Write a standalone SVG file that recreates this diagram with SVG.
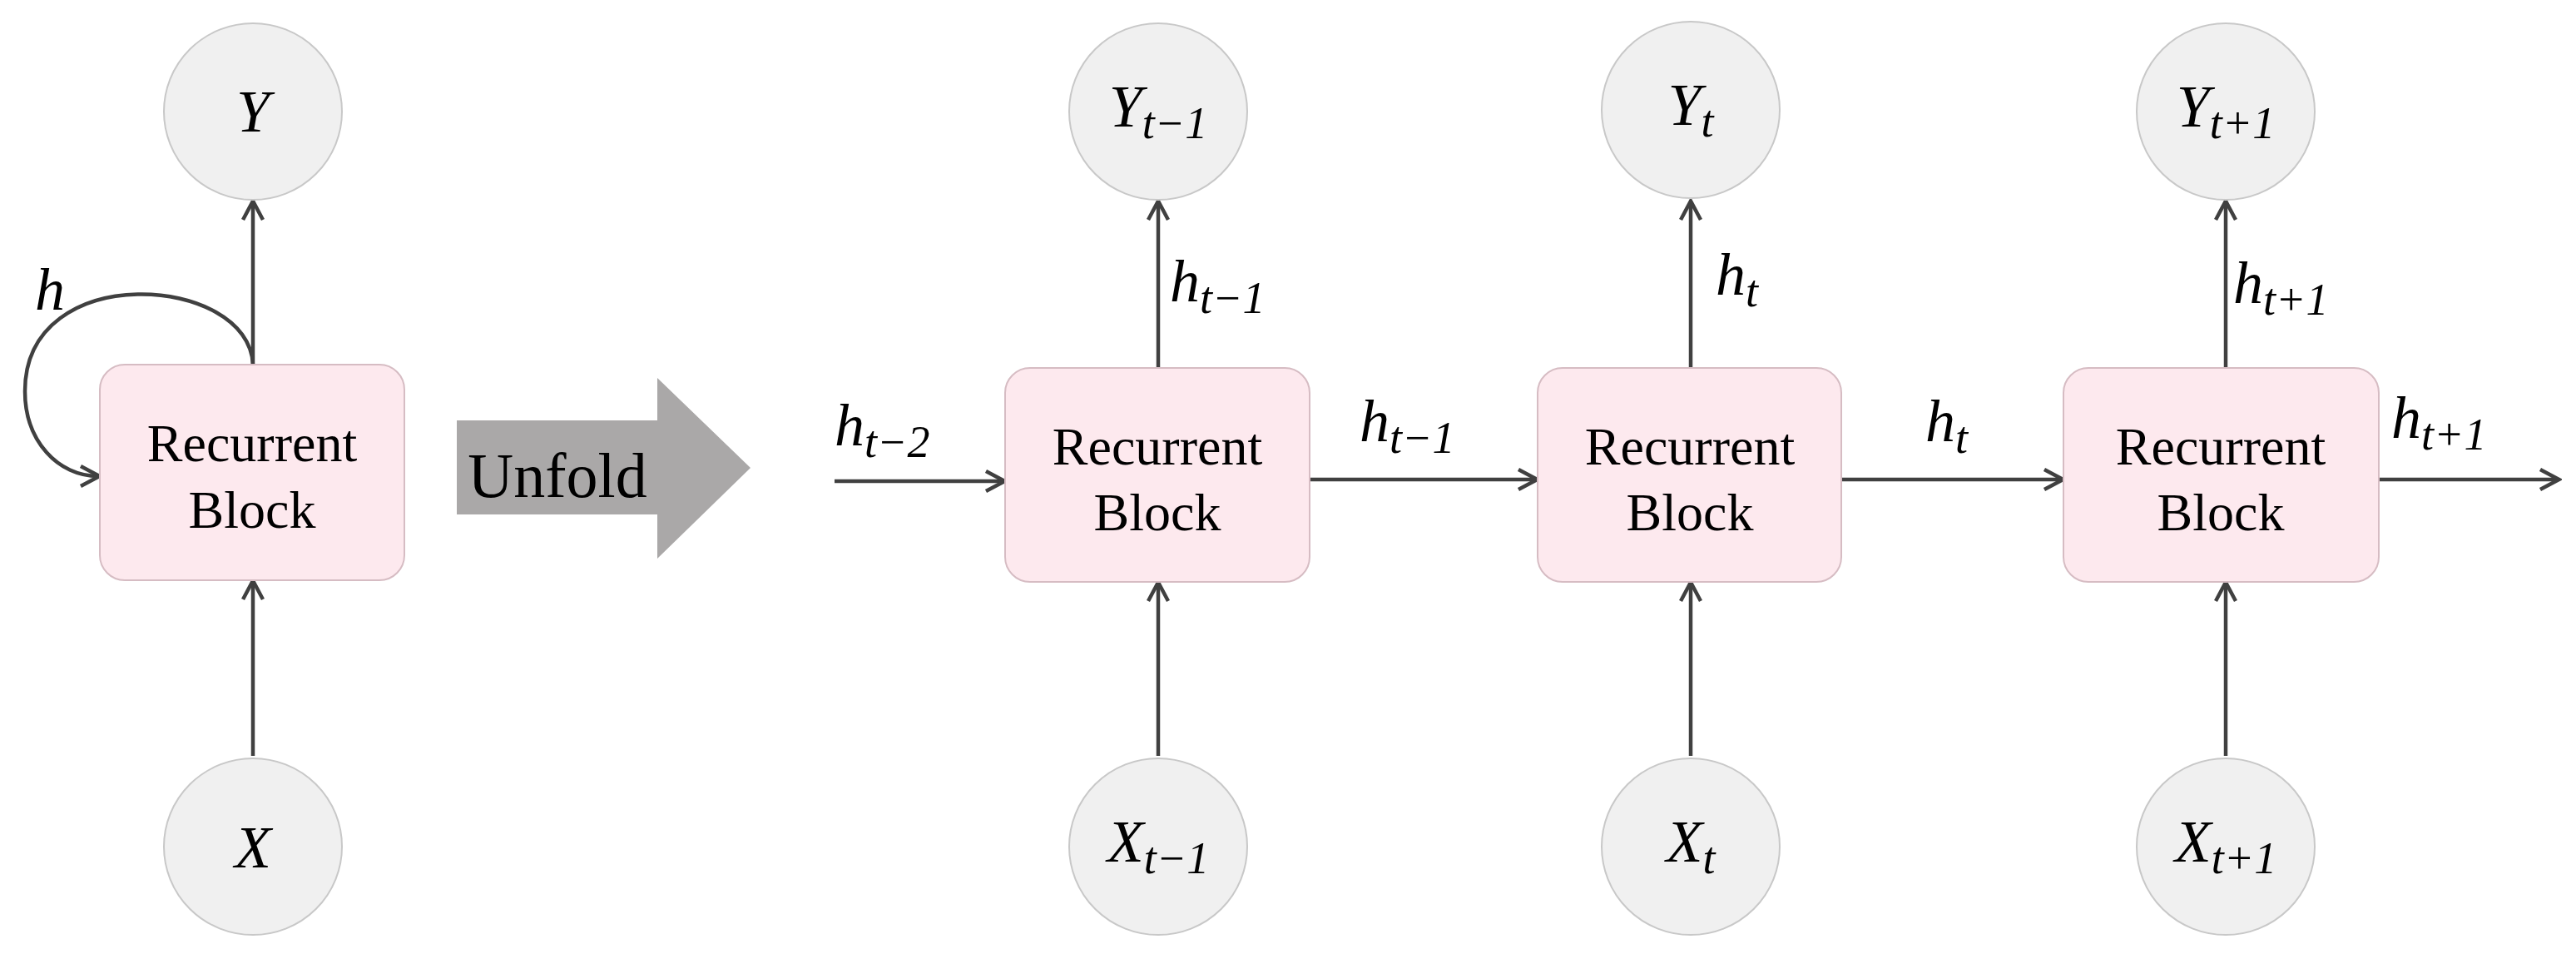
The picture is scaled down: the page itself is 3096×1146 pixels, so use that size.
<svg xmlns="http://www.w3.org/2000/svg" width="3096" height="1146" viewBox="0 0 3096 1146">
<defs>
<marker id="ah" viewBox="0 0 20 20" refX="17" refY="10" markerWidth="30" markerHeight="30" markerUnits="userSpaceOnUse" orient="auto"><path d="M3,2 L18,10 L3,18" fill="none" stroke="#404040" stroke-width="3"/></marker>
<style>
.blk{fill:#fde9ee;stroke:#d6bcc3;stroke-width:2}
.cir{fill:#f0f0f0;stroke:#c8c8c8;stroke-width:2}
.ln{fill:none;stroke:#404040;stroke-width:4.5;marker-end:url(#ah)}
.bt{font-family:'Liberation Serif','Times New Roman',Times,serif;font-size:64px;text-anchor:middle;fill:#000}
.m{font-family:'Liberation Serif','DejaVu Serif',serif;font-style:italic;font-size:72px;fill:#000}
.s{font-size:54px;font-style:italic}
</style>
</defs>
<g id="connectors">
<line class="ln" x1="304" y1="438" x2="304" y2="243"/>
<line class="ln" x1="304" y1="908" x2="304" y2="699"/>
<path class="ln" d="M304,438 C300,330 30,310 30,470 C30,530 70,572 118,572"/>
<line class="ln" x1="1392" y1="442" x2="1392" y2="243"/>
<line class="ln" x1="1392" y1="908" x2="1392" y2="701"/>
<line class="ln" x1="2032" y1="442" x2="2032" y2="243"/>
<line class="ln" x1="2032" y1="908" x2="2032" y2="701"/>
<line class="ln" x1="2675" y1="442" x2="2675" y2="243"/>
<line class="ln" x1="2675" y1="908" x2="2675" y2="701"/>
<line class="ln" x1="1003" y1="578" x2="1206" y2="578"/>
<line class="ln" x1="1574" y1="576" x2="1846" y2="576"/>
<line class="ln" x1="2213" y1="576" x2="2478" y2="576"/>
<line class="ln" x1="2859" y1="576" x2="3074" y2="576"/>
</g>
<g id="loop-label"><text class="m" x="42" y="372">h</text></g>
<g id="unfold">
<polygon points="549,505 790,505 790,454 902,562 790,671 790,618 549,618" fill="#aaa8a8"/>
<text class="bt" x="670" y="597" style="font-size:76px">Unfold</text>
</g>
<g id="Y"><ellipse class="cir" cx="304" cy="134" rx="107" ry="106"/><text class="m" x="304" y="158" text-anchor="middle">Y</text></g>
<g id="X"><ellipse class="cir" cx="304" cy="1017" rx="107" ry="106"/><text class="m" x="304" y="1042" text-anchor="middle">X</text></g>
<g id="block0"><rect class="blk" x="120" y="438" width="366" height="259" rx="30"/><text class="bt" x="303" y="554">Recurrent</text><text class="bt" x="303" y="634">Block</text></g>
<g id="block1"><rect class="blk" x="1208" y="442" width="366" height="257" rx="30"/><text class="bt" x="1391" y="558">Recurrent</text><text class="bt" x="1391" y="637">Block</text></g>
<g id="block2"><rect class="blk" x="1848" y="442" width="365" height="257" rx="30"/><text class="bt" x="2031" y="558">Recurrent</text><text class="bt" x="2031" y="637">Block</text></g>
<g id="block3"><rect class="blk" x="2480" y="442" width="379" height="257" rx="30"/><text class="bt" x="2669" y="558">Recurrent</text><text class="bt" x="2669" y="637">Block</text></g>
<g id="Y1"><ellipse class="cir" cx="1392" cy="134" rx="107" ry="106"/><text class="m" x="1392" y="152" text-anchor="middle">Y<tspan class="s" dy="14">t−1</tspan></text></g>
<g id="Y2"><ellipse class="cir" cx="2032" cy="132" rx="107" ry="106"/><text class="m" x="2032" y="150" text-anchor="middle">Y<tspan class="s" dy="14">t</tspan></text></g>
<g id="Y3"><ellipse class="cir" cx="2675" cy="134" rx="107" ry="106"/><text class="m" x="2675" y="152" text-anchor="middle">Y<tspan class="s" dy="14">t+1</tspan></text></g>
<g id="X1"><ellipse class="cir" cx="1392" cy="1017" rx="107" ry="106"/><text class="m" x="1392" y="1035" text-anchor="middle">X<tspan class="s" dy="14">t−1</tspan></text></g>
<g id="X2"><ellipse class="cir" cx="2032" cy="1017" rx="107" ry="106"/><text class="m" x="2032" y="1035" text-anchor="middle">X<tspan class="s" dy="14">t</tspan></text></g>
<g id="X3"><ellipse class="cir" cx="2675" cy="1017" rx="107" ry="106"/><text class="m" x="2675" y="1035" text-anchor="middle">X<tspan class="s" dy="14">t+1</tspan></text></g>
<g id="labels">
<text class="m" x="1003" y="535">h<tspan class="s" dy="14">t−2</tspan></text>
<text class="m" x="1406" y="362">h<tspan class="s" dy="14">t−1</tspan></text>
<text class="m" x="1634" y="530">h<tspan class="s" dy="14">t−1</tspan></text>
<text class="m" x="2062" y="354">h<tspan class="s" dy="14">t</tspan></text>
<text class="m" x="2314" y="530">h<tspan class="s" dy="14">t</tspan></text>
<text class="m" x="2684" y="364">h<tspan class="s" dy="14">t+1</tspan></text>
<text class="m" x="2874" y="526">h<tspan class="s" dy="14">t+1</tspan></text>
</g>
</svg>
